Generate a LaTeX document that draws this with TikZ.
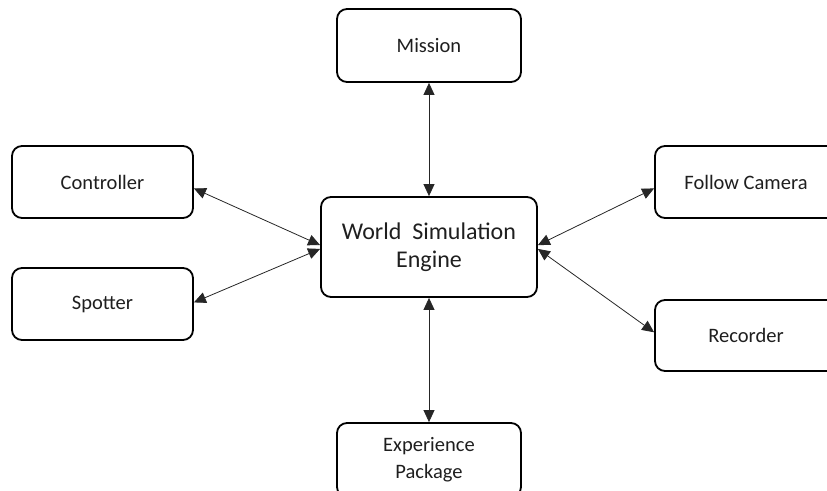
\documentclass[tikz,border=0pt]{standalone}
\usepackage{fontspec}
\setmainfont{Carlito}
\usetikzlibrary{arrows.meta}
\begin{document}
\begin{tikzpicture}[x=1pt,y=-1pt,
  unit/.style={draw=black, line width=1.8pt, rounded corners=10pt, fill=white,
    minimum width=#1, align=center, text=black!88,
    font=\fontsize{20.5}{27}\selectfont},
  unit/.default=182pt,
  link/.style={line width=0.8pt, draw=black!85,
    {Triangle[length=12pt,width=11pt]}-{Triangle[length=12pt,width=11pt]}}]
  \useasboundingbox (0,0) rectangle (827,490);
  \clip (0,0) rectangle (827,490);

  % central engine
  \node[unit=216pt, minimum height=100pt, font=\fontsize{24}{28}\selectfont]
    (eng) at (429,247) {World~ Simulation\\Engine};

  % surrounding modules
  \node[unit=184pt, minimum height=73pt] (mis) at (429,45.5) {Mission};
  \node[unit=181pt, minimum height=72pt] (ctl) at (102.5,182) {Controller};
  \node[unit=181pt, minimum height=72pt] (spt) at (102.5,304) {Spotter};
  \node[unit=182pt, minimum height=72pt] (cam) at (746,182) {Follow Camera};
  \node[unit=182pt, minimum height=71pt] (rec) at (746,335.5) {Recorder};
  \node[unit=184pt, minimum height=74pt] (exp) at (429,460) {Experience\\Package};

  % two-way links
  \draw[link] (mis.south) -- (eng.north);
  \draw[link] (eng.south) -- (exp.north);
  \draw[link] (ctl.-4) -- (eng.179);
  \draw[link] (spt.1) -- (eng.181);
  \draw[link] (cam.184) -- (eng.1);
  \draw[link] (rec.178) -- (eng.-1);
\end{tikzpicture}
\end{document}
